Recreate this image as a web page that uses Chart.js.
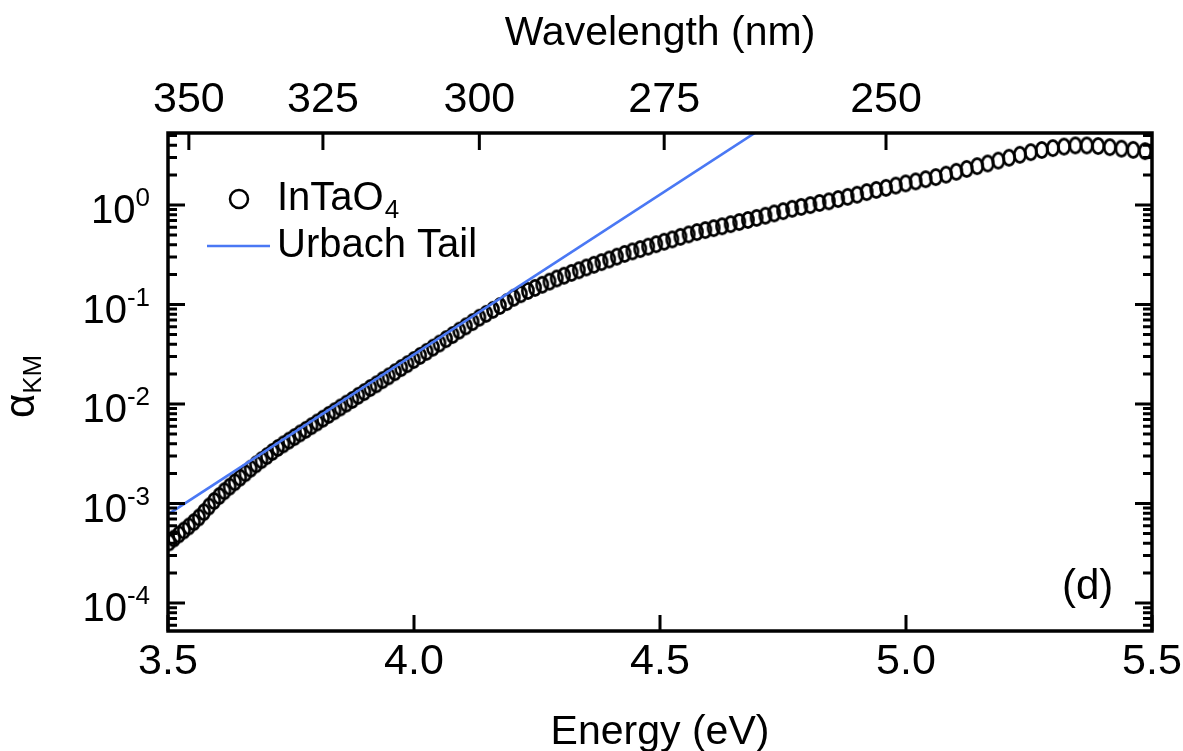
<!DOCTYPE html>
<html lang="en">
<head>
    <meta charset="UTF-8">
    <title>InTaO4 Urbach tail</title>
    <script src="https://cdn.jsdelivr.net/npm/chart.js"></script>
    <style>
        html, body { margin: 0; padding: 0; background: #fff; }
        #wrap { width: 1183px; height: 751px; }
    </style>
</head>
<body>
<div id="wrap"><canvas id="myChart"></canvas></div>

<script>
    // measured spectrum, one point per nm
    const wavelengths = [
        354, 353, 352, 351, 350, 349, 348, 347, 346, 345,
        344, 343, 342, 341, 340, 339, 338, 337, 336, 335,
        334, 333, 332, 331, 330, 329, 328, 327, 326, 325,
        324, 323, 322, 321, 320, 319, 318, 317, 316, 315,
        314, 313, 312, 311, 310, 309, 308, 307, 306, 305,
        304, 303, 302, 301, 300, 299, 298, 297, 296, 295,
        294, 293, 292, 291, 290, 289, 288, 287, 286, 285,
        284, 283, 282, 281, 280, 279, 278, 277, 276, 275,
        274, 273, 272, 271, 270, 269, 268, 267, 266, 265,
        264, 263, 262, 261, 260, 259, 258, 257, 256, 255,
        254, 253, 252, 251, 250, 249, 248, 247, 246, 245,
        244, 243, 242, 241, 240, 239, 238, 237, 236, 235,
        234, 233, 232, 231, 230, 229, 228, 227, 226, 225
    ];
    const alphaKM = [
        4.07e-4, 4.45e-4, 4.90e-4, 5.37e-4, 5.89e-4, 6.50e-4, 7.25e-4, 8.20e-4, 9.35e-4, 1.06e-3,
        1.19e-3, 1.33e-3, 1.48e-3, 1.64e-3, 1.82e-3, 2.02e-3, 2.24e-3, 2.48e-3, 2.73e-3, 3.00e-3,
        3.30e-3, 3.62e-3, 3.94e-3, 4.29e-3, 4.66e-3, 5.07e-3, 5.51e-3, 6.00e-3, 6.53e-3, 7.13e-3,
        7.78e-3, 8.47e-3, 9.25e-3, 1.01e-2, 1.10e-2, 1.21e-2, 1.32e-2, 1.45e-2, 1.58e-2, 1.74e-2,
        1.90e-2, 2.09e-2, 2.30e-2, 2.52e-2, 2.77e-2, 3.05e-2, 3.35e-2, 3.69e-2, 4.06e-2, 4.49e-2,
        4.94e-2, 5.47e-2, 6.04e-2, 6.67e-2, 7.38e-2, 8.07e-2, 8.85e-2, 9.68e-2, 0.106, 0.117,
        0.127, 0.137, 0.147, 0.158, 0.170, 0.183, 0.195, 0.208, 0.221, 0.236,
        0.251, 0.267, 0.284, 0.303, 0.323, 0.342, 0.361, 0.382, 0.404, 0.428,
        0.452, 0.479, 0.507, 0.535, 0.560, 0.586, 0.612, 0.643, 0.675, 0.708,
        0.743, 0.782, 0.824, 0.869, 0.918, 0.959, 1.00, 1.05, 1.09, 1.15,
        1.21, 1.27, 1.35, 1.42, 1.49, 1.57, 1.65, 1.73, 1.82, 1.91,
        2.02, 2.16, 2.31, 2.46, 2.62, 2.80, 2.99, 3.20, 3.40, 3.58,
        3.74, 3.87, 3.98, 3.97, 3.92, 3.82, 3.69, 3.59, 3.48, 3.37
    ];

    // Urbach tail fit, end points (eV, alpha)
    const urbachEnergy = [3.50, 4.70];
    const urbachAlpha = [7.8e-4, 5.6];

    const energyTicks = [3.5, 4.0, 4.5, 5.0, 5.5];
    const wavelengthTicks = [350, 325, 300, 275, 250];
    const decadeTicks = [1e-4, 1e-3, 1e-2, 1e-1, 1];

    const HC = 1239.84; // eV*nm
    const FONT = "'Liberation Sans', Arial, Helvetica, sans-serif";
    const BLUE = '#4a78f4';

    function ellipseMarker() {
        let c = document.createElement('canvas');
        c.width = 18;
        c.height = 22;
        let g = c.getContext('2d');
        g.lineWidth = 2.6;
        g.strokeStyle = '#000';
        g.beginPath();
        g.ellipse(9, 11, 5.6, 7.6, 0, 0, Math.PI * 2);
        g.stroke();
        return c;
    }

    // keep the plot box where the reference has it
    function noSidePadding(s) {
        s.paddingLeft = 0;
        s.paddingRight = 0;
    }

    const framePlugin = {
        id: 'frame',
        afterDraw(chart) {
            const {ctx, chartArea: a, scales} = chart;
            const y = scales.y;
            ctx.save();
            ctx.strokeStyle = '#000';
            ctx.fillStyle = '#000';
            ctx.lineCap = 'butt';

            // tick marks, pointing inwards
            ctx.lineWidth = 3;
            ctx.beginPath();
            energyTicks.forEach(v => {
                let px = scales.x.getPixelForValue(v);
                ctx.moveTo(px, a.bottom);
                ctx.lineTo(px, a.bottom - 16);
            });
            wavelengthTicks.forEach(w => {
                let px = scales.x2.getPixelForValue(HC / w);
                ctx.moveTo(px, a.top);
                ctx.lineTo(px, a.top + 17);
            });
            for (let n = -5; n <= 0; n++) {
                for (let k = 1; k <= 9; k++) {
                    let v = k * Math.pow(10, n);
                    if (v < y.min || v > y.max) continue;
                    let py = y.getPixelForValue(v);
                    let len = k === 1 ? 17 : 9;
                    ctx.moveTo(a.left, py);
                    ctx.lineTo(a.left + len, py);
                    ctx.moveTo(a.right, py);
                    ctx.lineTo(a.right - len, py);
                }
            }
            ctx.stroke();

            // frame
            ctx.lineWidth = 3.5;
            ctx.strokeRect(a.left, a.top, a.right - a.left, a.bottom - a.top);

            // y tick labels 10^n
            ctx.textBaseline = 'alphabetic';
            decadeTicks.forEach(v => {
                let py = y.getPixelForValue(v);
                let exp = String(Math.round(Math.log10(v)));
                ctx.font = '26px ' + FONT;
                let ew = ctx.measureText(exp).width;
                ctx.textAlign = 'left';
                ctx.fillText(exp, 150 - ew, py + 1);
                ctx.font = '40px ' + FONT;
                ctx.textAlign = 'right';
                ctx.fillText('10', 150 - ew, py + 18);
            });

            // y title alpha_KM
            ctx.save();
            ctx.translate(34, 418);
            ctx.rotate(-Math.PI / 2);
            ctx.textAlign = 'left';
            ctx.font = '42px ' + FONT;
            ctx.fillText('\u03b1', 0, 0);
            let aw = ctx.measureText('\u03b1').width;
            ctx.font = '26px ' + FONT;
            ctx.fillText('KM', aw, 7);
            ctx.restore();

            // legend
            let lx = a.left + 109;
            ctx.textAlign = 'left';
            ctx.lineWidth = 2.5;
            ctx.beginPath();
            ctx.arc(a.left + 71, 199, 9, 0, Math.PI * 2);
            ctx.stroke();
            ctx.font = '40px ' + FONT;
            ctx.fillText('InTaO', lx, 210);
            let tw = ctx.measureText('InTaO').width;
            ctx.font = '26px ' + FONT;
            ctx.fillText('4', lx + tw + 1, 218);

            ctx.strokeStyle = BLUE;
            ctx.lineWidth = 2.5;
            ctx.beginPath();
            ctx.moveTo(a.left + 39, 246);
            ctx.lineTo(a.left + 102, 246);
            ctx.stroke();
            ctx.font = '40px ' + FONT;
            ctx.fillText('Urbach Tail', lx, 257);

            // panel label
            ctx.font = '42px ' + FONT;
            ctx.fillText('(d)', a.right - 90, 599);
            ctx.restore();
        }
    };

    function init() {
        let ctx = document.getElementById('myChart').getContext('2d');
        let points = wavelengths.map((w, i) => ({x: HC / w, y: alphaKM[i]}));
        let urbach = urbachEnergy.map((e, i) => ({x: e, y: urbachAlpha[i]}));

        new Chart(ctx, {
            type: 'scatter',
            data: {
                datasets: [
                    {
                        label: 'Urbach Tail',
                        data: urbach,
                        showLine: true,
                        borderColor: BLUE,
                        borderWidth: 2.6,
                        pointRadius: 0,
                        order: 0,
                    },
                    {
                        label: 'InTaO4',
                        data: points,
                        pointStyle: ellipseMarker(),
                        pointRadius: 9,
                        order: 1,
                    },
                ],
            },
            options: {
                animation: false,
                responsive: true,
                maintainAspectRatio: false,
                layout: {padding: {left: 0, right: 31, top: 0, bottom: 0}},
                plugins: {
                    legend: {display: false},
                    tooltip: {enabled: false},
                },
                scales: {
                    x: {
                        type: 'linear',
                        position: 'bottom',
                        min: 3.5,
                        max: 5.5,
                        grid: {display: false, drawTicks: false},
                        border: {display: false},
                        afterBuildTicks: s => { s.ticks = energyTicks.map(v => ({value: v})); },
                        afterFit: s => { s.height = 120; noSidePadding(s); },
                        ticks: {
                            autoSkip: false,
                            maxRotation: 0,
                            padding: 5,
                            color: '#000',
                            font: {family: FONT, size: 43},
                            callback: v => v.toFixed(1),
                        },
                        title: {
                            display: true,
                            text: 'Energy (eV)',
                            color: '#000',
                            font: {family: FONT, size: 41},
                            padding: {top: 0, bottom: -6},
                        },
                    },
                    x2: {
                        type: 'linear',
                        position: 'top',
                        min: 3.5,
                        max: 5.5,
                        grid: {display: false, drawTicks: false},
                        border: {display: false},
                        afterBuildTicks: s => { s.ticks = wavelengthTicks.map(w => ({value: HC / w})); },
                        afterFit: s => { s.height = 133; noSidePadding(s); },
                        ticks: {
                            autoSkip: false,
                            maxRotation: 0,
                            padding: 7,
                            color: '#000',
                            font: {family: FONT, size: 43},
                            callback: v => String(Math.round(HC / v)),
                        },
                        title: {
                            display: true,
                            text: 'Wavelength (nm)',
                            color: '#000',
                            font: {family: FONT, size: 41},
                            padding: {top: 9, bottom: 0},
                        },
                    },
                    y: {
                        type: 'logarithmic',
                        min: 5.24e-5,
                        max: 5.3,
                        grid: {display: false, drawTicks: false},
                        border: {display: false},
                        ticks: {display: false},
                        afterFit: s => { s.width = 168; },
                    },
                },
            },
            plugins: [framePlugin],
        });
    }

    document.addEventListener('DOMContentLoaded', init);
</script>

</body>
</html>
